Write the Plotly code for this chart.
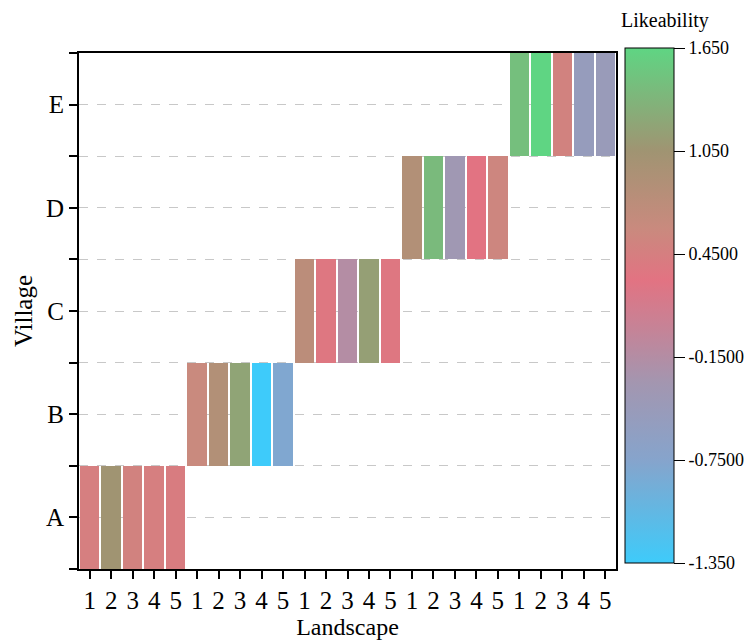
import plotly.graph_objects as go

villages = ["A", "B", "C", "D", "E"]
landscapes = ["1", "2", "3", "4", "5"]
like_A = [0.45, 1.05, 0.50, 0.45, 0.42]
like_B = [0.60, 0.85, 1.20, -1.35, -0.80]
like_C = [0.75, 0.35, -0.15, 1.15, 0.35]
like_D = [0.85, 1.40, -0.35, 0.30, 0.55]
like_E = [1.45, 1.65, 0.50, -0.50, -0.45]
cbar_vals = [-1.35, -0.75, -0.15, 0.45, 1.05, 1.65]
cbar_text = ["-1.350", "-0.7500", "-0.1500", "0.4500", "1.050", "1.650"]

rows = [like_A, like_B, like_C, like_D, like_E]
ncol = len(villages) * len(landscapes)
z = []
for i, r in enumerate(rows):
    line = [None] * ncol
    for j, v in enumerate(r):
        line[i * len(landscapes) + j] = v
    z.append(line)

xticktext = landscapes * len(villages)

colorscale = [
    [0.0, "#3ECBFA"],
    [0.2, "#86A4CC"],
    [0.35, "#A396B0"],
    [0.45, "#C48498"],
    [0.55, "#E27382"],
    [0.65, "#C98A7E"],
    [0.8, "#A09472"],
    [1.0, "#5FD583"],
]

FONT = "Liberation Serif, Times New Roman, serif"
L, R, T, B = 79, 616, 53, 569
PW, PH = R - L, B - T

fig = go.Figure(go.Heatmap(
    z=z,
    x=list(range(ncol)),
    y=list(range(len(villages))),
    colorscale=colorscale,
    zmin=-1.35, zmax=1.65,
    xgap=2,
    hoverongaps=False,
    colorbar=dict(
        x=(625 - L) / PW, xanchor="left", xpad=0,
        y=(B - 305.5) / PH, yanchor="middle", ypad=0,
        lenmode="pixels", len=515,
        thickness=49,
        outlinewidth=1, outlinecolor="black",
        tickvals=cbar_vals, ticktext=cbar_text,
        ticks="outside", ticklen=11, tickwidth=1, tickcolor="black",
        tickfont=dict(family=FONT, size=18, color="black"),
    ),
))

fig.update_layout(
    width=754, height=643,
    margin=dict(l=L, r=754 - R, t=T, b=643 - B, autoexpand=False),
    paper_bgcolor="white", plot_bgcolor="white",
    font=dict(family=FONT, color="black"),
    xaxis=dict(
        range=[-0.5, ncol - 0.5],
        tickvals=list(range(ncol)), ticktext=xticktext,
        ticks="outside", ticklen=8, tickwidth=2, tickcolor="black",
        tickfont=dict(family=FONT, size=25, color="black"),
        showline=True, linewidth=2, linecolor="black", mirror=True,
        showgrid=False, zeroline=False,
        title=dict(text="Landscape", font=dict(family=FONT, size=24, color="black"), standoff=0),
    ),
    yaxis=dict(
        range=[-0.5, len(villages) - 0.5],
        tickvals=list(range(len(villages))), ticktext=villages,
        ticks="outside", ticklen=8, tickwidth=2, tickcolor="black",
        tickfont=dict(family=FONT, size=25, color="black"),
        showline=True, linewidth=2, linecolor="black", mirror=True,
        showgrid=True, gridcolor="#c8c8c8", gridwidth=1, griddash="dash",
        zeroline=False,
        minor=dict(tick0=-0.5, dtick=1, ticks="outside", ticklen=8, tickwidth=2,
                   tickcolor="black", showgrid=True, gridcolor="#c8c8c8",
                   gridwidth=1, griddash="dash"),
        title=dict(text="Village", font=dict(family=FONT, size=25, color="black"), standoff=6),
    ),
    annotations=[dict(
        text="Likeability", xref="paper", yref="paper",
        x=(665 - L) / PW, y=(B - 20) / PH,
        xanchor="center", yanchor="middle", showarrow=False,
        font=dict(family=FONT, size=20, color="black"),
    )],
)

fig.write_html("out.html")
